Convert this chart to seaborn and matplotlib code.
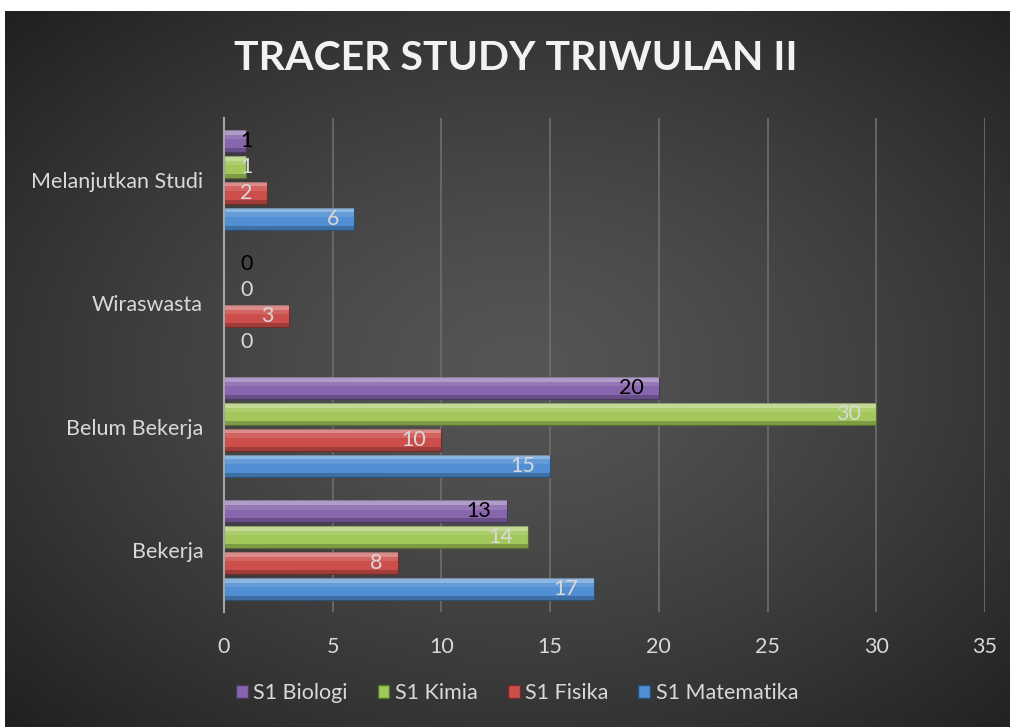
import numpy as np
import pandas as pd
import matplotlib
matplotlib.use("Agg")
import matplotlib.pyplot as plt
import seaborn as sns
from matplotlib.patches import Rectangle, Patch

categories = ["Melanjutkan Studi", "Wiraswasta", "Belum Bekerja", "Bekerja"]
series = ["S1 Biologi", "S1 Kimia", "S1 Fisika", "S1 Matematika"]
biologi = [1, 0, 20, 13]
kimia = [1, 0, 30, 14]
fisika = [2, 3, 10, 8]
matematika = [6, 0, 15, 17]
x_ticks = [0, 5, 10, 15, 20, 25, 30, 35]
title = "TRACER STUDY TRIWULAN II"

colors = {"S1 Biologi": "#8766ad", "S1 Kimia": "#a2c75a",
          "S1 Fisika": "#cc4f4c", "S1 Matematika": "#508fd3"}
label_colors = {"S1 Biologi": "black", "S1 Kimia": "#d9d9d9",
                "S1 Fisika": "#d9d9d9", "S1 Matematika": "#d9d9d9"}

rows = []
for s, vals in zip(series, [biologi, kimia, fisika, matematika]):
    for c, v in zip(categories, vals):
        rows.append({"cat": c, "series": s, "value": v})
df = pd.DataFrame(rows)

sns.set_theme(style="white")
plt.rcParams["font.family"] = ["Lato", "DejaVu Sans"]

W, H = 1012, 727
fig = plt.figure(figsize=(W / 100, H / 100), dpi=100)
fig.patch.set_facecolor("white")

# background with radial gradient
bg = fig.add_axes([5 / W, 0, (1010 - 5) / W, (H - 11) / H], zorder=-10)
yy, xx = np.mgrid[0:300, 0:420]
cx, cy = 215, 150
r = np.sqrt(((xx - cx) / 420) ** 2 + ((yy - cy) / 300) ** 2)
r = r / r.max()
val = 0.335 - 0.21 * r ** 1.3
bg.imshow(np.dstack([val, val, val]), aspect="auto", extent=[0, 1, 0, 1],
          interpolation="bilinear")
bg.set_axis_off()

ax = fig.add_axes([224 / W, 1 - 612 / H, (985 - 224) / W, (612 - 118) / H])
ax.patch.set_alpha(0)
sns.barplot(data=df, y="cat", x="value", hue="series", order=categories,
            hue_order=series, palette=colors, orient="h", width=0.84,
            gap=0.14, ax=ax, legend=False, errorbar=None, saturation=1)

# bevel-ish styling
for p in list(ax.patches):
    fc = p.get_facecolor()
    p.set_edgecolor(tuple(np.array(fc[:3]) * 0.55))
    p.set_linewidth(0.8)
    x0, y0 = p.get_x(), p.get_y()
    w, h = p.get_width(), p.get_height()
    if w > 0:
        ax.add_patch(Rectangle((x0, y0), w, h * 0.22, facecolor="white",
                               alpha=0.35, linewidth=0, zorder=p.get_zorder() + 0.1))
        ax.add_patch(Rectangle((x0, y0 + h * 0.22), w, h * 0.2, facecolor="white",
                               alpha=0.12, linewidth=0, zorder=p.get_zorder() + 0.1))
        ax.add_patch(Rectangle((x0, y0 + h * 0.82), w, h * 0.18, facecolor="black",
                               alpha=0.22, linewidth=0, zorder=p.get_zorder() + 0.1))

# data labels
n = len(series)
for ci, c in enumerate(categories):
    for si, s in enumerate(series):
        v = df[(df.cat == c) & (df.series == s)].value.iloc[0]
        ypos = ci - 0.42 + 0.84 / n * (si + 0.5)
        xpos = max(v - 0.7, 1.3)
        ax.text(xpos, ypos, str(v), ha="right", va="center", fontsize=15.5,
                color=label_colors[s], zorder=10)

ax.set_xlim(0, 35)
ax.set_ylim(3.5, -0.5)
ax.set_xticks(x_ticks)
ax.set_xticklabels([str(t) for t in x_ticks])
ax.grid(axis="x", color="#6e6e6e", linewidth=1.2, zorder=0)
ax.set_axisbelow(True)
for sp in ["top", "right", "bottom"]:
    ax.spines[sp].set_visible(False)
ax.spines["left"].set_color("#a6a6a6")
ax.spines["left"].set_linewidth(1.5)
ax.tick_params(axis="x", colors="#d9d9d9", labelsize=15.5, length=0, pad=18)
ax.tick_params(axis="y", colors="#d9d9d9", labelsize=15.5, length=0, pad=15)
ax.set_xlabel("")
ax.set_ylabel("")

fig.text(516 / W, 1 - 58 / H, title, ha="center", va="center", fontsize=29.5,
         fontweight="bold", color="#f2f2f2")

handles = [Patch(facecolor=colors[s], edgecolor=tuple(np.array(matplotlib.colors.to_rgb(colors[s])) * 0.55),
                 label=s) for s in series]
leg = fig.legend(handles=handles, loc="center", bbox_to_anchor=(517 / W, 1 - 693 / H),
                 ncol=4, frameon=False, fontsize=15.5, handlelength=0.55,
                 handleheight=0.55, handletextpad=0.25, columnspacing=1.4)
for t in leg.get_texts():
    t.set_color("#d9d9d9")

fig.savefig("out.png", dpi=100)
